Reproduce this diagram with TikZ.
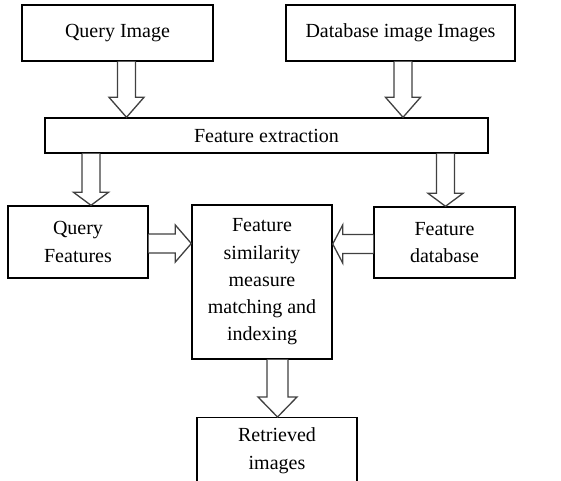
\documentclass[tikz,border=0pt]{standalone}
\usepackage{fontspec}
\setmainfont{Liberation Serif}
\usetikzlibrary{calc}
\tikzset{
  box/.style={draw=black, line width=1.4pt, fill=white, align=center, inner sep=0pt,
    font=\fontsize{20}{27.3}\selectfont},
  blk/.style={draw=black!75, line width=1.3pt, fill=white, line join=miter},
}
% vertical block arrow: #1 start point, #2 end node point, #3 shaft half width, #4 head half width, #5 head length
\newcommand\downblock[5]{%
  \draw[blk] let \p1=(#1), \p2=(#2) in
    (\x1-#3,\y1) -- (\x1-#3,\y2+#5) -- (\x1-#4,\y2+#5) -- (\x1,\y2)
    -- (\x1+#4,\y2+#5) -- (\x1+#3,\y2+#5) -- (\x1+#3,\y1);}
% horizontal block arrow: #5 signed head length (positive pointing right)
\newcommand\sideblock[5]{%
  \draw[blk] let \p1=(#1), \p2=(#2) in
    (\x1,\y1+#3) -- (\x2-#5,\y1+#3) -- (\x2-#5,\y1+#4) -- (\x2,\y1)
    -- (\x2-#5,\y1-#4) -- (\x2-#5,\y1-#3) -- (\x1,\y1-#3);}
\begin{document}
\begin{tikzpicture}[x=1pt,y=-1pt]
\useasboundingbox (0,0) rectangle (561,480);
\clip (0,0) rectangle (561,480);
\node[box, minimum width=191pt, minimum height=56pt] (qi) at (117.5,33) {Query Image};
\node[box, minimum width=229pt, minimum height=56pt] (db) at (400.5,33) {Database image Images};
\node[box, minimum width=443pt, minimum height=35pt] (fe) at (266.5,135.5) {Feature extraction};
\node[box, minimum width=140pt, minimum height=72pt] (qf) at (78,242) {Query\\Features};
\node[box, minimum width=140pt, minimum height=154pt] (fs) at (262,282) {Feature\\similarity\\measure\\matching and\\indexing};
\node[box, minimum width=141pt, minimum height=71pt] (fd) at (444.5,242.5) {Feature\\database};
\node[box, minimum width=160pt, minimum height=66pt, anchor=north] (ri) at (277,417) {Retrieved\\images};
% arrows
\downblock{$(qi.south)+(9,0)$}{fe.north}{9pt}{17.5pt}{20pt}
\downblock{$(db.south)+(2.5,0)$}{fe.north}{9pt}{17.5pt}{20pt}
\downblock{$(fe.south -| qf.north)+(13,0)$}{qf.north}{9pt}{17.5pt}{13pt}
\downblock{$(fe.south -| fd.north)+(1,0)$}{fd.north}{9pt}{17.5pt}{13pt}
\downblock{$(fs.south)+(15.5,0)$}{ri.north}{10.5pt}{19.5pt}{20pt}
\sideblock{$(qf.east)+(0,1.5)$}{fs.west}{9.5pt}{18.5pt}{16pt}
\sideblock{$(fd.west)+(0,1.5)$}{fs.east}{9.5pt}{19pt}{-10pt}
\end{tikzpicture}
\end{document}
